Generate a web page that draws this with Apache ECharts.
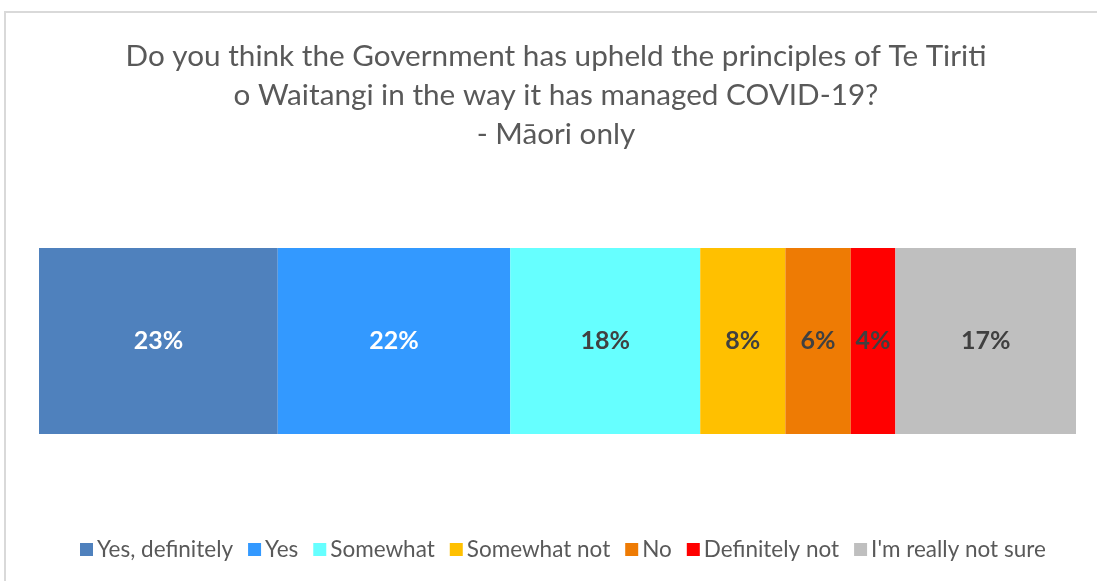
<!DOCTYPE html>
<html lang="en">
  <head>
    <meta charset="UTF-8">
    <title>Te Tiriti o Waitangi - COVID-19</title>
    <style>
      body { margin: 0; background: #fff; }
      .frame {
        position: absolute;
        left: 4px;
        top: 11px;
        width: 1200px;
        height: 700px;
        border: 2px solid #d9d9d9;
      }
      .chart {
        position: absolute;
        left: 0;
        top: 0;
        width: 1097px;
        height: 581px;
      }
    </style>
  </head>
  <body>
    <div class="frame"></div>
    <div id="chart" class="chart"></div>

    <script src="https://cdn.jsdelivr.net/npm/echarts@6/dist/echarts.min.js"></script>
    <script type="text/javascript">
      // answers, in stacking order
      var categories = ['Yes, definitely', 'Yes', 'Somewhat', 'Somewhat not', 'No', 'Definitely not', "I'm really not sure"];
      // shares (labels show them rounded)
      var values = [23.0, 22.4, 18.3, 8.2, 6.3, 4.3, 17.4];
      var colors = ['#4f81bd', '#3399ff', '#66ffff', '#ffc000', '#ee7b04', '#ff0000', '#bfbfbf'];
      var labelColors = ['#ffffff', '#ffffff', '#404040', '#404040', '#404040', '#404040', '#404040'];

      var total = values.reduce(function(a, b) { return a + b; }, 0);

      var myChart = echarts.init(document.getElementById('chart'));

      var series = categories.map(function(name, i) {
        return {
          name: name,
          type: 'bar',
          stack: 'all',
          barWidth: '100%',
          itemStyle: { color: colors[i] },
          label: {
            show: true,
            position: 'inside',
            color: labelColors[i],
            fontFamily: 'Lato',
            fontWeight: 'bold',
            fontSize: 25,
            formatter: function(p) {
              return Math.round(p.value) + '%';
            }
          },
          data: [values[i]]
        };
      });

      option = {
        backgroundColor: 'transparent',
        animation: false,
        title: {
          text: 'Do you think the Government has upheld the principles of Te Tiriti\no Waitangi in the way it has managed COVID-19?\n- Māori only',
          left: 551,
          textAlign: 'center',
          top: 32,
          textStyle: {
            color: '#595959',
            fontFamily: 'Lato',
            fontWeight: 'normal',
            fontSize: 29.7,
            lineHeight: 39
          }
        },
        legend: {
          bottom: 15,
          left: 75,
          itemWidth: 13,
          itemHeight: 13,
          itemGap: 15,
          icon: 'rect',
          textStyle: {
            color: '#595959',
            fontFamily: 'Lato',
            fontSize: 22.5,
            padding: [0, 0, 0, -1]
          },
          data: categories
        },
        grid: {
          left: 39,
          right: 21,
          top: 248,
          height: 186
        },
        xAxis: {
          type: 'value',
          min: 0,
          max: total,
          show: false
        },
        yAxis: {
          type: 'category',
          data: ['Māori'],
          show: false
        },
        series: series
      };

      myChart.setOption(option);
    </script>
  </body>
</html>
